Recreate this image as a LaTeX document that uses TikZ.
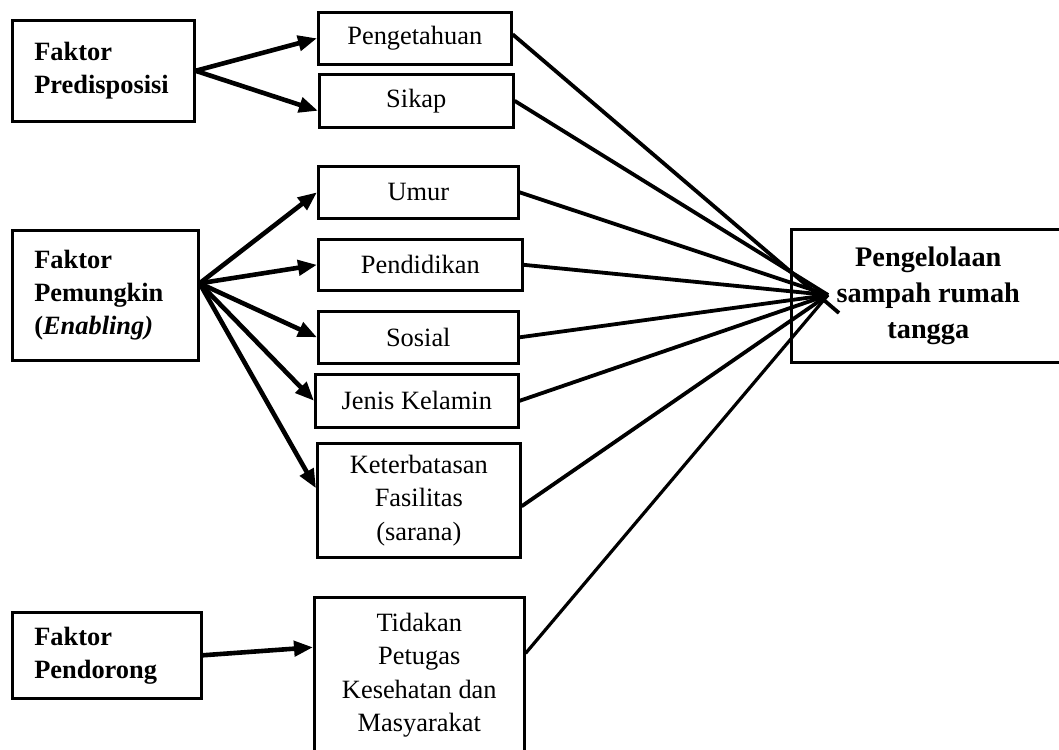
\documentclass[tikz,border=0pt]{standalone}
\usepackage{fontspec}
\setmainfont{Liberation Serif}
\usetikzlibrary{arrows.meta}
\begin{document}
\begin{tikzpicture}[x=1pt,y=-1pt,
  box/.style={draw, line width=2.6pt, inner sep=0pt, anchor=north west, align=center,
    font=\fontsize{26.4}{33.5}\selectfont},
  lbox/.style={draw, line width=2.6pt, inner ysep=0pt, inner xsep=22pt, anchor=north west,
    align=left, font=\bfseries\fontsize{26.4}{33}\selectfont},
  tbox/.style={draw, line width=2.6pt, inner sep=0pt, anchor=north west, align=center,
    font=\bfseries\fontsize{28.3}{36}\selectfont},
  arr/.style={line width=4.6pt, -{Triangle[length=19pt,width=15pt]}},
  link/.style={line width=3.8pt},
]
\useasboundingbox (0,0) rectangle (1059,749);
\fill[white] (0,0) rectangle (1059,749);

% left factor boxes
\node[lbox, minimum width=182pt, minimum height=101pt, text width=138pt] (pred) at (11,19) {Faktor\\Predisposisi};
\node[lbox, minimum width=186pt, minimum height=130pt, text width=142pt] (pemu) at (11,229) {Faktor\\Pemungkin\\(\textit{Enabling)}};
\node[lbox, minimum width=189pt, minimum height=86pt, text width=145pt] (pendo) at (11,611) {Faktor\\Pendorong};

% middle boxes
\node[box, minimum width=193pt, minimum height=52pt] (peng) at (317,11) {Pengetahuan};
\node[box, minimum width=194pt, minimum height=53pt] (sikap) at (318,73) {Sikap};
\node[box, minimum width=200pt, minimum height=52pt] (umur) at (317,165) {Umur};
\node[box, minimum width=204pt, minimum height=51pt] (pend) at (317,238) {Pendidikan};
\node[box, minimum width=200pt, minimum height=52pt] (sos) at (317,310) {Sosial};
\node[box, minimum width=203pt, minimum height=53pt] (jenis) at (314,373) {Jenis Kelamin};
\node[box, minimum width=203pt, minimum height=114pt] (kete) at (316,442) {Keterbatasan\\Fasilitas\\(sarana)};
\node[box, minimum width=210pt, minimum height=156pt] (tind) at (313,596) {Tidakan\\Petugas\\Kesehatan dan\\Masyarakat};

% target
\node[tbox, minimum width=274pt, minimum height=133pt] (target) at (790,228) {Pengelolaan\\sampah rumah\\tangga};

\coordinate (conv) at (828,295);
\coordinate (conv2) at (839,313);

% arrows from factors
\draw[arr] (pred.east) -- (peng.west);
\draw[arr] (pred.east) -- ([yshift=-10pt]sikap.west);
\draw[arr] ([yshift=12pt]pemu.east) -- (umur.west);
\draw[arr] ([yshift=12pt]pemu.east) -- (pend.west);
\draw[arr] ([yshift=12pt]pemu.east) -- (sos.west);
\draw[arr] ([yshift=12pt]pemu.east) -- (jenis.west);
\draw[arr] ([yshift=12pt]pemu.east) -- ([yshift=12pt]kete.west);
\draw[arr] (pendo.east) -- ([yshift=28pt]tind.west);

% links to target
\draw[link] ([yshift=4pt]peng.east) -- (conv2);
\draw[link] (sikap.east) -- (conv);
\draw[link] (umur.east) -- (conv);
\draw[link] (pend.east) -- (conv);
\draw[link] (sos.east) -- (conv);
\draw[link] (jenis.east) -- (conv);
\draw[link] ([yshift=-6pt]kete.east) -- (conv);
\draw[link, line width=3.2pt] ([yshift=22pt]tind.east) -- (conv);
\end{tikzpicture}
\end{document}
